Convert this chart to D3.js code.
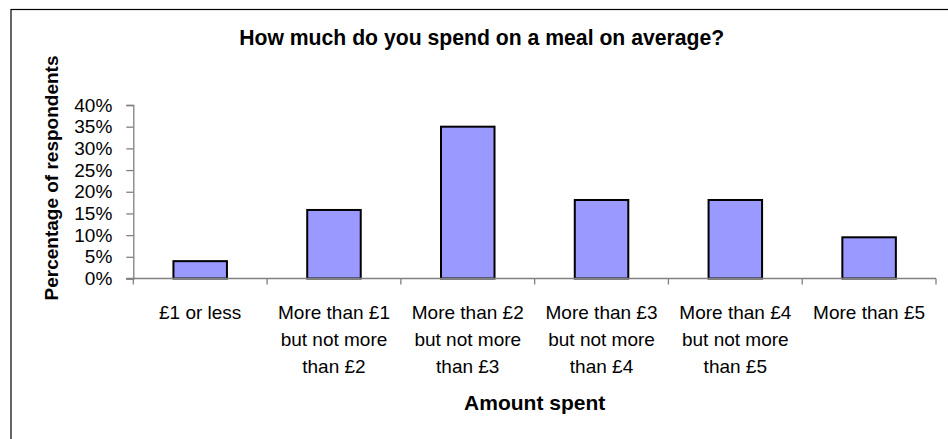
<!DOCTYPE html>
<html>
<head>
<meta charset="utf-8">
<script src="https://cdn.jsdelivr.net/npm/d3@7"></script>
<style>
  html, body { margin: 0; padding: 0; background: #fff; }
  svg { display: block; font-family: "Liberation Sans", Arial, sans-serif; }
</style>
</head>
<body>
<svg id="chart" width="948" height="439"></svg>
<script>
// ---- data ----
const categories = [
  ["£1 or less"],
  ["More than £1", "but not more", "than £2"],
  ["More than £2", "but not more", "than £3"],
  ["More than £3", "but not more", "than £4"],
  ["More than £4", "but not more", "than £5"],
  ["More than £5"]
];
const values = [4.0, 15.8, 35.0, 18.1, 18.1, 9.5];
const yTicks = [0, 5, 10, 15, 20, 25, 30, 35, 40];
const titleText = "How much do you spend on a meal on average?";
const xTitle = "Amount spent";
const yTitle = "Percentage of respondents";

// ---- layout ----
const svg = d3.select("#chart");
const plot = { left: 133.3, right: 936, top: 105, bottom: 278.5 };

// frame
svg.append("rect")
  .attr("x", 11).attr("y", 9.5)
  .attr("width", 960).attr("height", 460)
  .attr("fill", "none").attr("stroke", "#000").attr("stroke-width", 1.2);

const keys = categories.map((d, i) => i);
const x = d3.scaleBand().domain(keys)
  .range([plot.left, plot.right])
  .paddingInner(0.6).paddingOuter(0.3);
const y = d3.scaleLinear().domain([0, 40]).range([plot.bottom, plot.top]);

// title
svg.append("text")
  .attr("x", 481.7).attr("y", 45)
  .attr("text-anchor", "middle")
  .attr("font-weight", "bold").attr("font-size", 21.2)
  .text(titleText);

// bars
svg.selectAll("rect.bar").data(values).enter().append("rect")
  .attr("class", "bar")
  .attr("x", (d, i) => x(i))
  .attr("width", x.bandwidth())
  .attr("y", d => y(d))
  .attr("height", d => y(0) - y(d))
  .attr("fill", "#9999FF")
  .attr("stroke", "#000").attr("stroke-width", 2);

// y axis
const yAxis = svg.append("g").attr("transform", `translate(${plot.left},0)`)
  .call(d3.axisLeft(y).tickValues(yTicks).tickSize(7).tickPadding(14)
    .tickFormat(d => d + "%"));
yAxis.select(".domain").attr("stroke", "#808080").attr("stroke-width", 1.3);
yAxis.selectAll(".tick line").attr("stroke", "#808080").attr("stroke-width", 1.3);
yAxis.selectAll(".tick text")
  .attr("font-size", 19).attr("fill", "#000")
  .attr("font-family", "'Liberation Sans', Arial, sans-serif");

// x axis line and boundary ticks
const step = x.step();
const xg = svg.append("g");
xg.append("line")
  .attr("x1", plot.left - 7).attr("x2", plot.right)
  .attr("y1", y(0)).attr("y2", y(0))
  .attr("stroke", "#808080").attr("stroke-width", 1.3);
xg.selectAll("line.xt").data(d3.range(categories.length + 1)).enter().append("line")
  .attr("class", "xt")
  .attr("x1", i => plot.left + i * step).attr("x2", i => plot.left + i * step)
  .attr("y1", y(0)).attr("y2", y(0) + 6)
  .attr("stroke", "#808080").attr("stroke-width", 1.3);

// x labels
const lab = svg.selectAll("text.xl").data(categories).enter().append("text")
  .attr("class", "xl")
  .attr("text-anchor", "middle")
  .attr("font-size", 19)
  .attr("x", (d, i) => x(i) + x.bandwidth() / 2)
  .attr("y", 319.3);
lab.selectAll("tspan").data(d => d).enter().append("tspan")
  .attr("x", function () { return d3.select(this.parentNode).attr("x"); })
  .attr("dy", (d, j) => j === 0 ? 0 : 27)
  .text(d => d);

// x title
svg.append("text")
  .attr("x", (plot.left + plot.right) / 2).attr("y", 410)
  .attr("text-anchor", "middle")
  .attr("font-weight", "bold").attr("font-size", 21)
  .text(xTitle);

// y title
svg.append("text")
  .attr("transform", "translate(58,178) rotate(-90)")
  .attr("text-anchor", "middle")
  .attr("font-weight", "bold").attr("font-size", 19)
  .text(yTitle);
</script>
</body>
</html>
